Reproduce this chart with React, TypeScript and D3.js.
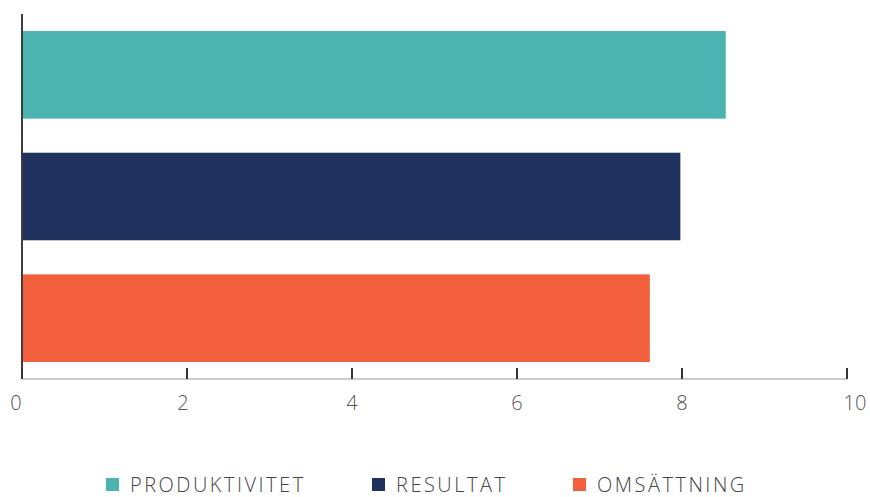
import { useEffect, useRef } from 'react';
import * as d3 from 'd3';

const categories = ['PRODUKTIVITET', 'RESULTAT', 'OMSÄTTNING'];
const values = [8.53, 7.98, 7.61];
const colors = ['#4BB3B0', '#21325E', '#F15F3C'];
const xTicks = [0, 2, 4, 6, 8, 10];

const WIDTH = 870;
const HEIGHT = 497;

export default function App() {
  const svgRef = useRef<SVGSVGElement>(null);

  useEffect(() => {
    if (!svgRef.current) return;
    const svg = d3.select(svgRef.current);
    svg.selectAll('*').remove();

    const font = "'Open Sans', 'DejaVu Sans', sans-serif";

    const xScale = d3.scaleLinear().domain([0, 10]).range([22, 847]);
    const yScale = d3
      .scaleBand()
      .domain(categories)
      .range([14, 379])
      .paddingInner(0.28)
      .paddingOuter(0.14);

    const axisY = 379;

    // Bars
    svg
      .selectAll('.bar')
      .data(categories)
      .enter()
      .append('rect')
      .attr('class', 'bar')
      .attr('x', xScale(0))
      .attr('y', (d) => yScale(d) ?? 0)
      .attr('width', (_, i) => xScale(values[i]) - xScale(0))
      .attr('height', yScale.bandwidth())
      .attr('fill', (_, i) => colors[i]);

    // Vertical axis line
    svg
      .append('line')
      .attr('x1', xScale(0))
      .attr('x2', xScale(0))
      .attr('y1', 14)
      .attr('y2', axisY)
      .attr('stroke', '#3d3d3d')
      .attr('stroke-width', 2);

    // Horizontal axis line
    svg
      .append('line')
      .attr('x1', xScale(0))
      .attr('x2', xScale(10))
      .attr('y1', axisY)
      .attr('y2', axisY)
      .attr('stroke', '#9a9a9a')
      .attr('stroke-width', 1);

    // Ticks
    svg
      .selectAll('.tick')
      .data(xTicks)
      .enter()
      .append('line')
      .attr('class', 'tick')
      .attr('x1', (d) => xScale(d))
      .attr('x2', (d) => xScale(d))
      .attr('y1', axisY - 11)
      .attr('y2', axisY)
      .attr('stroke', '#333')
      .attr('stroke-width', 2);

    // Tick labels
    svg
      .selectAll('.x-label')
      .data(xTicks)
      .enter()
      .append('text')
      .attr('class', 'x-label')
      .attr('x', (d) => xScale(d) + (d === 0 ? -6 : d === 10 ? 8 : d === 2 ? -4 : 0))
      .attr('y', 410)
      .attr('text-anchor', 'middle')
      .attr('fill', '#555')
      .attr('font-family', font)
      .attr('font-weight', 300)
      .attr('font-size', '20px')
      .text((d) => d);

    // Legend
    const legendX = [106, 372, 573];
    const legend = svg
      .selectAll('.legend')
      .data(categories)
      .enter()
      .append('g')
      .attr('class', 'legend')
      .attr('transform', (_, i) => `translate(${legendX[i]},478)`);

    legend
      .append('rect')
      .attr('width', 13)
      .attr('height', 13)
      .attr('fill', (_, i) => colors[i]);

    legend
      .append('text')
      .attr('x', 24)
      .attr('y', 13.5)
      .attr('fill', '#444')
      .attr('font-family', font)
      .attr('font-weight', 300)
      .attr('font-size', '20px')
      .attr('letter-spacing', '2.5px')
      .text((d) => d);
  }, []);

  return (
    <div style={{ position: 'absolute', left: 0, top: 0 }}>
      <svg ref={svgRef} width={WIDTH} height={HEIGHT} style={{ display: 'block' }} />
    </div>
  );
}
